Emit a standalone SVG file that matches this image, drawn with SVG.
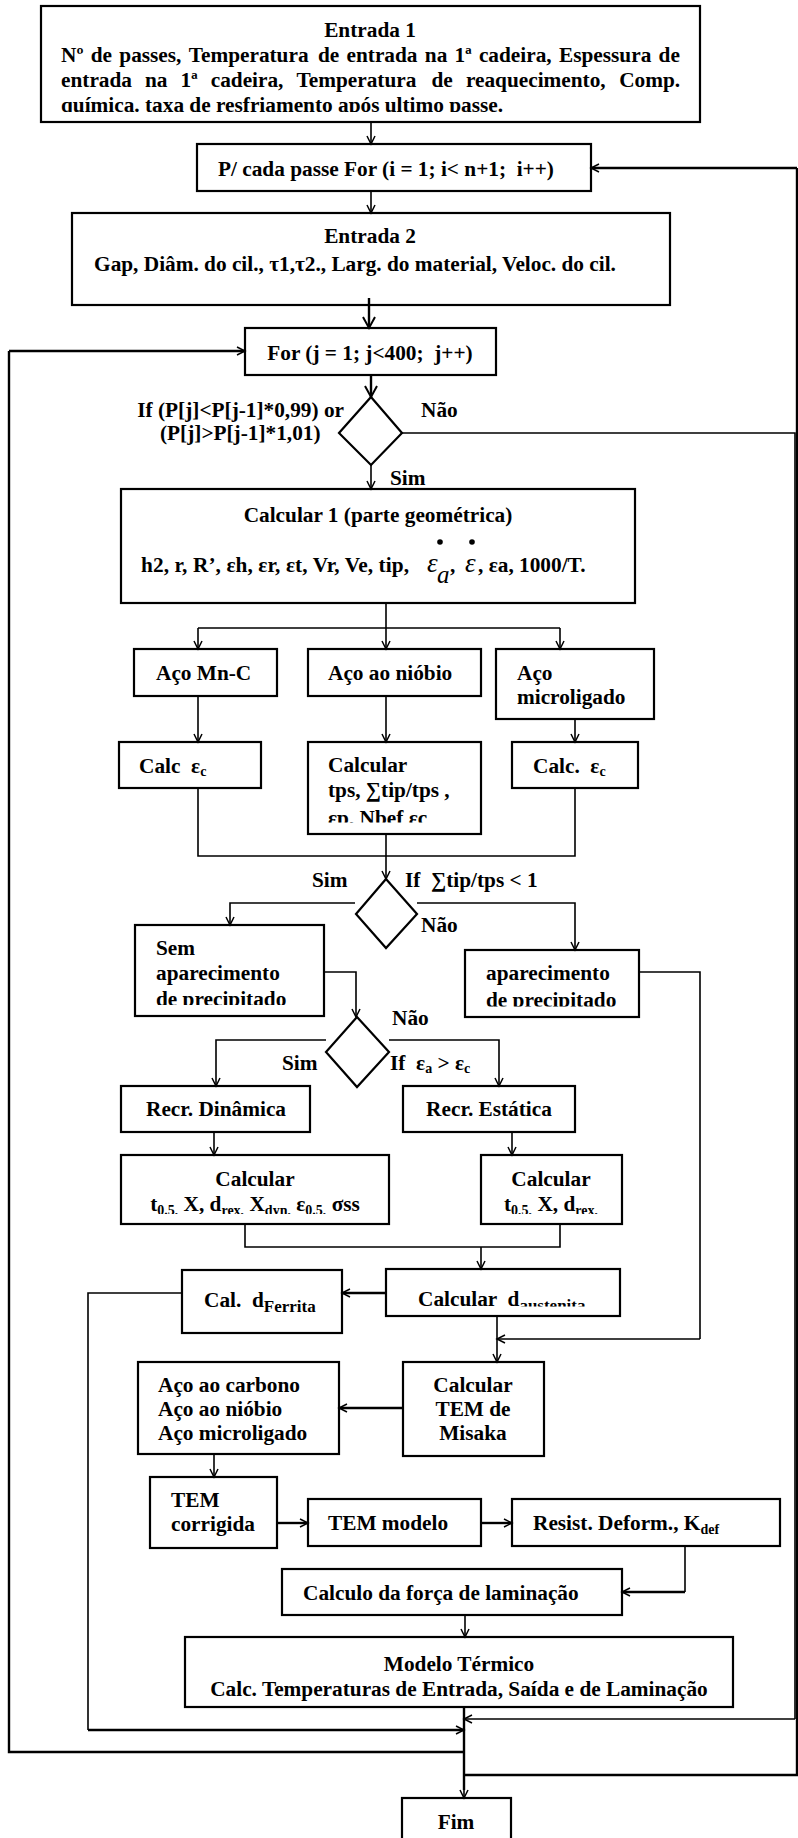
<svg xmlns="http://www.w3.org/2000/svg" width="798" height="1838" viewBox="0 0 798 1838">
<style>
.b{fill:#fff;stroke:#000;stroke-width:2.2}
.t{font-family:"Liberation Serif","Times New Roman",serif;font-weight:bold;font-size:21.3px;fill:#000}
.m{text-anchor:middle}
.e{text-anchor:end}
.s{font-size:14px}
.mi{font-family:"Liberation Serif","Times New Roman",serif;font-style:italic;font-weight:normal;fill:#000}
.c{fill:none;stroke:#000;stroke-width:1.6}
.ck{fill:none;stroke:#000;stroke-width:2.4}
.a{marker-end:url(#ah)}
.A{marker-end:url(#AH)}
</style>
<defs>
<marker id="ah" markerUnits="userSpaceOnUse" markerWidth="12" markerHeight="12" refX="9" refY="5" orient="auto"><path d="M1,1 L9,5 L1,9" fill="none" stroke="#000" stroke-width="1.5"/></marker>
<marker id="AH" markerUnits="userSpaceOnUse" markerWidth="16" markerHeight="16" refX="12" refY="7" orient="auto"><path d="M1,1 L12,7 L1,13" fill="none" stroke="#000" stroke-width="2"/></marker>
<clipPath id="clip1"><rect x="41" y="6" width="659" height="106"/></clipPath>
<clipPath id="clip2"><rect x="308" y="742" width="173" height="80.5"/></clipPath>
<clipPath id="clip3"><rect x="135" y="925" width="189" height="80"/></clipPath>
<clipPath id="clip4"><rect x="465" y="950" width="174" height="56.5"/></clipPath>
<clipPath id="clip5"><rect x="121" y="1155" width="268" height="59"/></clipPath>
<clipPath id="clip6"><rect x="481" y="1155" width="141" height="59"/></clipPath>
<clipPath id="clip7"><rect x="386" y="1269" width="234" height="37.5"/></clipPath>
</defs>

<g id="n-entrada1">
<rect class="b" x="41" y="6" width="659" height="116"/>
<g class="t" clip-path="url(#clip1)">
<text class="m" x="370" y="37">Entrada 1</text>
<text y="62"><tspan x="61">Nº</tspan><tspan x="90.7">de</tspan><tspan x="119.3">passes,</tspan><tspan x="188.7">Temperatura</tspan><tspan x="317.9">de</tspan><tspan x="346.5">entrada</tspan><tspan x="424.8">na</tspan><tspan x="454.6">1ª</tspan><tspan x="478.9">cadeira,</tspan><tspan x="559">Espessura</tspan><tspan x="658.6">de</tspan></text>
<text y="87"><tspan x="61">entrada</tspan><tspan x="145">na</tspan><tspan x="180.6">1ª</tspan><tspan x="210.7">cadeira,</tspan><tspan x="296.5">Temperatura</tspan><tspan x="431.5">de</tspan><tspan x="465.9">reaquecimento,</tspan><tspan x="619.2">Comp.</tspan></text>
<text x="61" y="112">química. taxa de resfriamento após ultimo passe.</text>
</g>
</g>

<g id="n-pcada">
<rect class="b" x="197" y="144" width="394" height="47"/>
<text class="t" x="218" y="176" xml:space="preserve">P/ cada passe For (i = 1; i&lt; n+1;  i++)</text>
</g>

<g id="n-entrada2">
<rect class="b" x="72" y="213" width="598" height="92"/>
<text class="t m" x="370" y="243">Entrada 2</text>
<text class="t m" x="355" y="271">Gap, Diâm. do cil., τ1,τ2., Larg. do material, Veloc. do cil.</text>
</g>

<g id="n-forj">
<rect class="b" x="245" y="328" width="251" height="47"/>
<text class="t m" x="370" y="360" xml:space="preserve">For (j = 1; j&lt;400;  j++)</text>
</g>

<g id="n-dec1">
<polygon class="b" points="371,397 402,433 371,465 339,433"/>
<text class="t e" x="344" y="417">If (P[j]&lt;P[j-1]*0,99) or</text>
<text class="t" x="160" y="440">(P[j]&gt;P[j-1]*1,01)</text>
<text class="t" x="421" y="417">Não</text>
<text class="t" x="390" y="485">Sim</text>
</g>

<g id="n-calc1">
<rect class="b" x="121" y="489" width="514" height="114"/>
<text class="t m" x="378" y="522">Calcular 1 (parte geométrica)</text>
<circle cx="440" cy="542" r="2.8"/>
<circle cx="472" cy="542" r="2.8"/>
<text class="t" x="141" y="572" textLength="268" lengthAdjust="spacing">h2, r, R’, εh, εr, εt, Vr, Ve, tip,</text>
<text class="mi" x="427" y="572" font-size="27">ε</text>
<text class="mi" x="437" y="583" font-size="25">a</text>
<text class="t" x="450" y="572">,</text>
<text class="mi" x="465" y="572" font-size="27">ε</text>
<text class="t" x="478" y="572">, εa, 1000/T.</text>
</g>

<g id="n-mnc">
<rect class="b" x="134" y="649" width="143" height="47"/>
<text class="t" x="156" y="680">Aço Mn-C</text>
</g>
<g id="n-niobio">
<rect class="b" x="308" y="649" width="173" height="47"/>
<text class="t" x="328" y="680">Aço ao nióbio</text>
</g>
<g id="n-micro">
<rect class="b" x="496" y="649" width="158" height="70"/>
<text class="t" x="517" y="680">Aço</text>
<text class="t" x="517" y="704">microligado</text>
</g>

<g id="n-calcec1">
<rect class="b" x="119" y="742" width="142" height="46"/>
<text class="t" x="139" y="773" xml:space="preserve">Calc  ε<tspan class="s" dy="3">c</tspan></text>
</g>
<g id="n-calctps">
<rect class="b" x="308" y="742" width="173" height="92"/>
<g class="t" clip-path="url(#clip2)">
<text x="328" y="772">Calcular</text>
<text x="328" y="797">tps, ∑tip/tps ,</text>
<text x="328" y="825">εp, Nbef εc</text>
</g>
</g>
<g id="n-calcec2">
<rect class="b" x="512" y="742" width="126" height="46"/>
<text class="t" x="533" y="773" xml:space="preserve">Calc.  ε<tspan class="s" dy="3">c</tspan></text>
</g>

<g id="n-dec2">
<polygon class="b" points="386,879 417,914 386,948 356,914"/>
<text class="t" x="312" y="887">Sim</text>
<text class="t" x="405" y="887" xml:space="preserve">If  ∑tip/tps &lt; 1</text>
<text class="t" x="421" y="932">Não</text>
</g>

<g id="n-sem">
<rect class="b" x="135" y="925" width="189" height="91"/>
<g class="t" clip-path="url(#clip3)">
<text x="156" y="955">Sem</text>
<text x="156" y="980">aparecimento</text>
<text x="156" y="1006">de precipitado</text>
</g>
</g>
<g id="n-apar">
<rect class="b" x="465" y="950" width="174" height="67"/>
<g class="t" clip-path="url(#clip4)">
<text x="486" y="980">aparecimento</text>
<text x="486" y="1007">de precipitado</text>
</g>
</g>

<g id="n-dec3">
<polygon class="b" points="357,1017 389,1052 357,1087 326,1052"/>
<text class="t" x="392" y="1025">Não</text>
<text class="t" x="282" y="1070">Sim</text>
<text class="t" x="390" y="1070" xml:space="preserve">If  ε<tspan class="s" dy="3">a</tspan><tspan dy="-3"> &gt; ε</tspan><tspan class="s" dy="3">c</tspan></text>
</g>

<g id="n-recrdin">
<rect class="b" x="121" y="1086" width="189" height="46"/>
<text class="t m" x="216" y="1116">Recr. Dinâmica</text>
</g>
<g id="n-recrest">
<rect class="b" x="403" y="1086" width="172" height="46"/>
<text class="t m" x="489" y="1116">Recr. Estática</text>
</g>

<g id="n-calcL">
<rect class="b" x="121" y="1155" width="268" height="69"/>
<g class="t" clip-path="url(#clip5)">
<text class="m" x="255" y="1186">Calcular</text>
<text class="m" x="255" y="1211">t<tspan class="s" dy="4">0.5,</tspan><tspan dy="-4"> X, d</tspan><tspan class="s" dy="4">rex,</tspan><tspan dy="-4"> X</tspan><tspan class="s" dy="4">dyn,</tspan><tspan dy="-4"> ε</tspan><tspan class="s" dy="4">0.5,</tspan><tspan dy="-4"> σss</tspan></text>
</g>
</g>
<g id="n-calcR">
<rect class="b" x="481" y="1155" width="141" height="69"/>
<g class="t" clip-path="url(#clip6)">
<text class="m" x="551" y="1186">Calcular</text>
<text class="m" x="551" y="1211">t<tspan class="s" dy="4">0,5,</tspan><tspan dy="-4"> X, d</tspan><tspan class="s" dy="4">rex,</tspan></text>
</g>
</g>

<g id="n-daust">
<rect class="b" x="386" y="1269" width="234" height="47"/>
<g class="t" clip-path="url(#clip7)">
<text x="418" y="1306" xml:space="preserve">Calcular  d<tspan font-size="17" dy="5">austenita</tspan></text>
</g>
</g>
<g id="n-dferr">
<rect class="b" x="182" y="1270" width="160" height="63"/>
<text class="t" x="204" y="1307" xml:space="preserve">Cal.  d<tspan font-size="17" dy="5">Ferrita</tspan></text>
</g>

<g id="n-misaka">
<rect class="b" x="403" y="1362" width="141" height="94"/>
<text class="t m" x="473" y="1392">Calcular</text>
<text class="t m" x="473" y="1416">TEM de</text>
<text class="t m" x="473" y="1440">Misaka</text>
</g>
<g id="n-acos">
<rect class="b" x="138" y="1362" width="201" height="92"/>
<text class="t" x="158" y="1392">Aço ao carbono</text>
<text class="t" x="158" y="1416">Aço ao nióbio</text>
<text class="t" x="158" y="1440">Aço microligado</text>
</g>

<g id="n-temcorr">
<rect class="b" x="150" y="1477" width="127" height="71"/>
<text class="t" x="171" y="1507">TEM</text>
<text class="t" x="171" y="1531">corrigida</text>
</g>
<g id="n-temmod">
<rect class="b" x="308" y="1499" width="173" height="47"/>
<text class="t" x="328" y="1530">TEM modelo</text>
</g>
<g id="n-resist">
<rect class="b" x="512" y="1499" width="268" height="47"/>
<text class="t" x="533" y="1530">Resist. Deform., K<tspan class="s" dy="4">def</tspan></text>
</g>

<g id="n-calculo">
<rect class="b" x="282" y="1569" width="340" height="46"/>
<text class="t" x="303" y="1600">Calculo da força de laminação</text>
</g>

<g id="n-modelo">
<rect class="b" x="185" y="1637" width="548" height="70"/>
<text class="t m" x="459" y="1671">Modelo Térmico</text>
<text class="t m" x="459" y="1696">Calc. Temperaturas de Entrada, Saída e de Laminação</text>
</g>

<g id="n-fim">
<rect class="b" x="402" y="1798" width="109" height="50"/>
<text class="t m" x="456" y="1829">Fim</text>
</g>

<g id="connectors">
<path class="c a" d="M371,122 V144"/>
<path class="c a" d="M371,191 V213"/>
<path class="ck A" d="M369,298 V328"/>
<path class="ck A" d="M371,375 V397"/>
<path class="c a" d="M371,465 V489"/>
<path class="c" d="M402,433 H795 V1719"/>
<path class="c a" d="M795,1719 H464"/>
<path class="c" d="M386,603 V628 M198,628 H560"/>
<path class="c a" d="M198,628 V649"/>
<path class="c a" d="M386,628 V649"/>
<path class="c a" d="M560,628 V649"/>
<path class="c a" d="M198,696 V742"/>
<path class="c a" d="M386,696 V742"/>
<path class="c a" d="M575,719 V742"/>
<path class="c" d="M198,788 V856 H575 V788"/>
<path class="c a" d="M386,834 V879"/>
<path class="c a" d="M355,903 H230 V925"/>
<path class="c a" d="M417,903 H575 V950"/>
<path class="c a" d="M324,972 H356 V1017"/>
<path class="c" d="M639,972 H700 V1339"/>
<path class="c a" d="M700,1339 H497"/>
<path class="c a" d="M326,1040 H216 V1086"/>
<path class="c a" d="M389,1040 H499 V1086"/>
<path class="c a" d="M214,1132 V1155"/>
<path class="c a" d="M512,1132 V1155"/>
<path class="c" d="M245,1224 V1247 H560 V1224"/>
<path class="c a" d="M481,1247 V1269"/>
<path class="ck a" d="M386,1293 H342"/>
<path class="c" d="M182,1293 H88 V1730"/>
<path class="ck a" d="M88,1730 H464"/>
<path class="c a" d="M497,1316 V1362"/>
<path class="ck a" d="M403,1408 H339"/>
<path class="c a" d="M214,1454 V1477"/>
<path class="ck a" d="M277,1523 H308"/>
<path class="ck a" d="M481,1523 H512"/>
<path class="c" d="M685,1546 V1592"/>
<path class="ck a" d="M685,1592 H622"/>
<path class="c a" d="M465,1615 V1637"/>
<path class="ck" d="M464,1707 V1790"/>
<path class="c a" d="M464,1780 V1798"/>
<path class="ck" d="M464,1752 H9 V351"/>
<path class="ck a" d="M9,351 H245"/>
<path class="ck" d="M464,1775 H797 V168"/>
<path class="ck a" d="M797,168 H591"/>
</g>
</svg>
